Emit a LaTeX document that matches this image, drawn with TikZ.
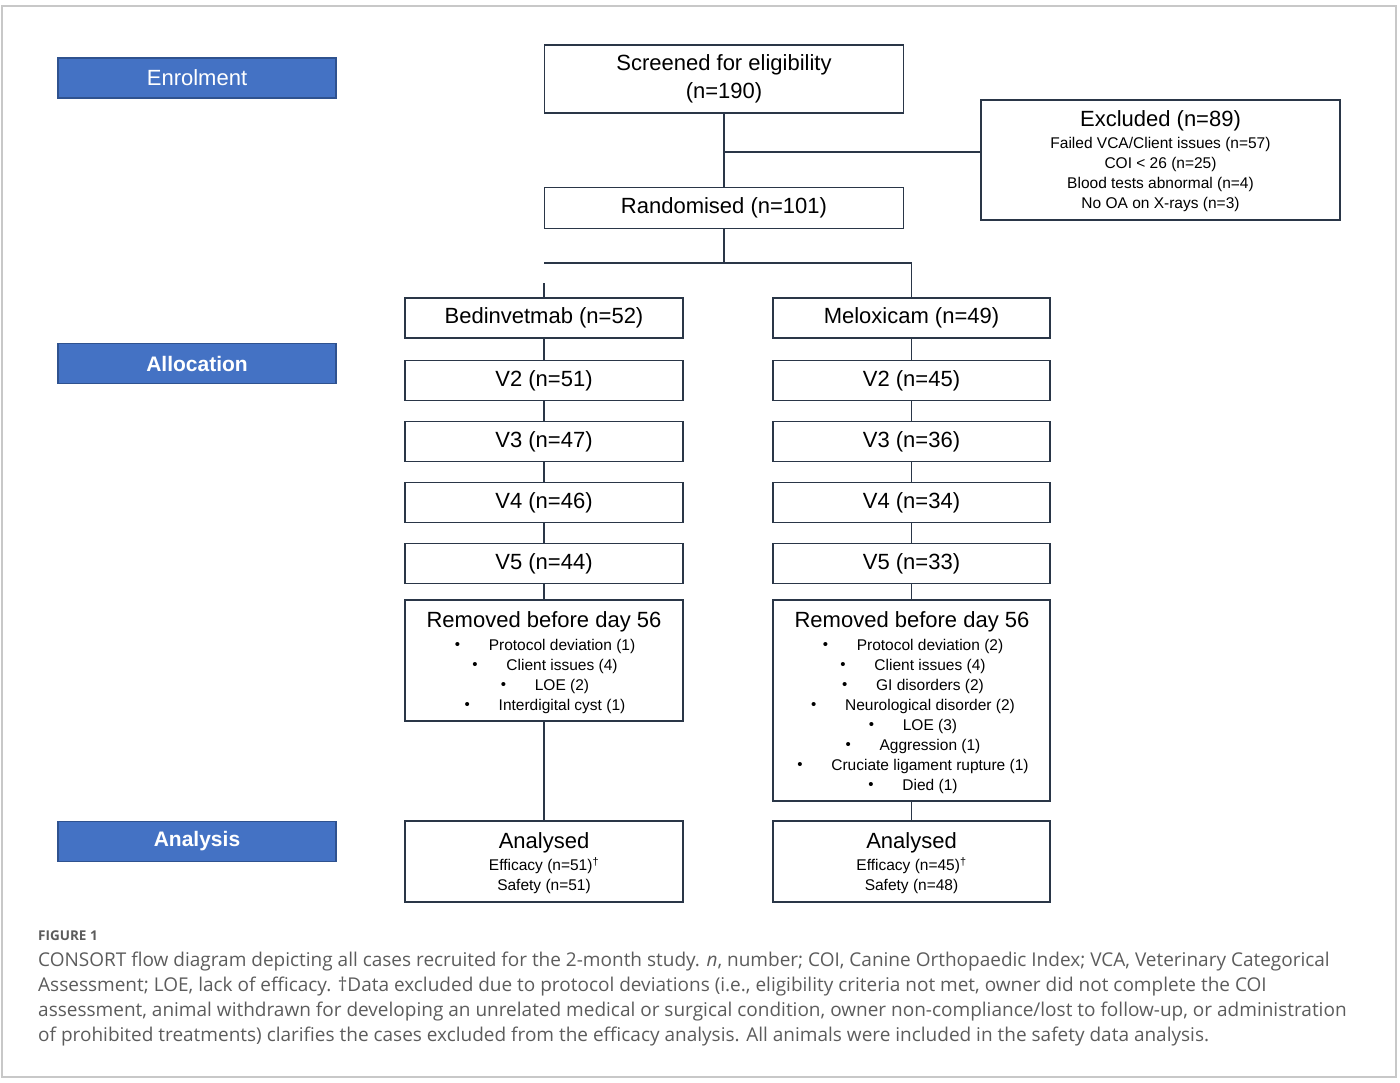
\documentclass[tikz,border=0pt]{standalone}
\usepackage{fontspec}
\setmainfont{Liberation Sans}
\newfontfamily\capfont{Open Sans}
\definecolor{labblue}{HTML}{4472C4}
\definecolor{labline}{HTML}{2F528F}
\definecolor{boxline}{HTML}{2A3647}
\definecolor{capgray}{HTML}{5C5C5C}
\definecolor{framegray}{HTML}{C8C8C8}
\begin{document}
\begin{tikzpicture}[x=1pt,y=-1pt,every node/.style={font=\fontsize{22}{28}\selectfont},stage/.style={draw=labline,line width=1.2pt,fill=labblue,text=white,minimum width=278pt,minimum height=40pt,inner sep=0pt},box/.style={draw=boxline,line width=1.8pt,fill=white,minimum width=278pt,minimum height=40pt,inner sep=0pt},ln/.style={boxline,line width=1.8pt},sm/.style={font=\fontsize{15.5}{20}\selectfont},itm/.style={sm,inner sep=0pt,label={[label distance=25pt,font=\fontsize{15}{15}\selectfont]left:\textbullet}},captxt/.style={anchor=base west,inner sep=0pt,text=capgray,font=\capfont\fontsize{19}{25}\selectfont}]
\useasboundingbox (0,0) rectangle (1400,1082);
\draw[framegray,line width=1.5pt] (2,6) rectangle (1396,1077);
% stage labels
\node[stage] (enrol) at (197,78) {Enrolment};
\node[stage,font=\fontsize{21}{24}\selectfont\bfseries] (alloc) at (197,363.5) {Allocation};
\node[stage,font=\fontsize{21}{24}\selectfont\bfseries] (anal) at (197,841.5) {Analysis};
% enrolment
\node[box,minimum width=359pt,minimum height=68pt,align=center] (scr) at (724,79) {Screened for eligibility\\(n=190)};
\node[box,minimum width=359pt,minimum height=120pt] (excl) at (1160.5,160) {};
\node (exclt) at (1160.5,121) {Excluded (n=89)};
\node[sm,align=center] (excll) at (1160.5,174) {Failed VCA/Client issues (n=57)\\COI < 26 (n=25)\\Blood tests abnormal (n=4)\\No OA on X-rays (n=3)};
\node[box,minimum width=359pt,minimum height=41pt] (rand) at (724,208) {Randomised (n=101)};
% arms
\node[box] (bed) at (544,318) {Bedinvetmab (n=52)};
\node[box,minimum width=277pt] (mel) at (911.5,318) {Meloxicam (n=49)};
\foreach \i/\y/\nb/\nm in {2/380.5/51/45,3/441.5/47/36,4/502.5/46/34,5/563.5/44/33}{
  \node[box] (b\i) at (544,\y) {V\i{} (n=\nb)};
  \node[box,minimum width=277pt] (m\i) at (911.5,\y) {V\i{} (n=\nm)};}
\node[box,minimum height=121pt] (brm) at (544,660.5) {};
\node (brmt) at (544,622) {Removed before day 56};
\foreach \t [count=\k] in {Protocol deviation (1),Client issues (4),LOE (2),Interdigital cyst (1)}
  \node[itm] at (562,626+20*\k) {\t};
\node[box,minimum width=277pt,minimum height=201pt] (mrm) at (911.5,700.5) {};
\node (mrmt) at (912,622) {Removed before day 56};
\foreach \t [count=\k] in {Protocol deviation (2),Client issues (4),GI disorders (2),Neurological disorder (2),LOE (3),Aggression (1),Cruciate ligament rupture (1),Died (1)}
  \node[itm] at (930,626+20*\k) {\t};
% analysis
\node[box,minimum height=81pt] (ban) at (544,861.5) {};
\node (bant) at (544,843) {Analysed};
\node[sm,align=center] (banl) at (544,876) {Efficacy (n=51)\textsuperscript{\dag}\\Safety (n=51)};
\node[box,minimum width=277pt,minimum height=81pt] (man) at (911.5,861.5) {};
\node (mant) at (911.5,843) {Analysed};
\node[sm,align=center] (manl) at (911.5,876) {Efficacy (n=45)\textsuperscript{\dag}\\Safety (n=48)};
% connectors
\coordinate (exj) at (724,152);\coordinate (spl) at (724,263);\coordinate (gap) at (544,283);
\draw[ln] (scr)--(rand);\draw[ln] (exj)--(exj -| excl.west);
\draw[ln] (rand)--(spl);\draw[ln] (spl -| bed)--(spl -| mel)--(mel);\draw[ln] (gap)--(bed);
\draw[ln] (bed)--(b2)--(b3)--(b4)--(b5)--(brm)--(ban);
\draw[ln] (mel)--(m2)--(m3)--(m4)--(m5)--(mrm)--(man);
% caption
\node[captxt,font=\capfont\fontsize{13.5}{16}\selectfont\bfseries] (fig) at (38,940) {FIGURE 1};
\node[captxt] (c1) at (38,966) {CONSORT flow diagram depicting all cases recruited for the 2-month study. \textit{n}, number; COI, Canine Orthopaedic Index; VCA, Veterinary Categorical};
\node[captxt] (c2) at (38,991) {Assessment; LOE, lack of efficacy. \dag Data excluded due to protocol deviations (i.e., eligibility criteria not met, owner did not complete the COI};
\node[captxt] (c3) at (38,1016) {assessment, animal withdrawn for developing an unrelated medical or surgical condition, owner non-compliance/lost to follow-up, or administration};
\node[captxt] (c4) at (38,1041) {of prohibited treatments) clarifies the cases excluded from the efficacy analysis. All animals were included in the safety data analysis.};
\end{tikzpicture}
\end{document}
